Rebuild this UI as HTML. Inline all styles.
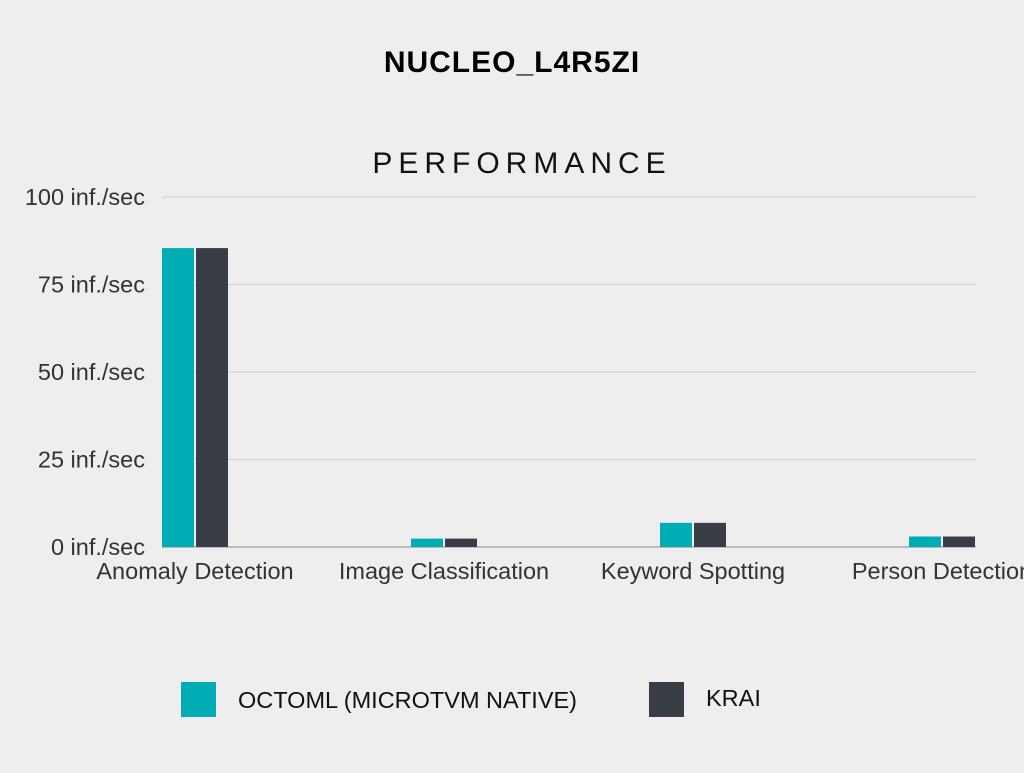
<!DOCTYPE html>
<html><head><meta charset="utf-8"><style>
body{margin:0;background:#eeeeee;width:1024px;height:768px;overflow:hidden;font-family:"Liberation Sans",sans-serif;}
</style></head><body>
<svg width="1024" height="768">
<rect width="1024" height="768" fill="#eeeeee"/>
<text x="512" y="72" text-anchor="middle" font-size="30" font-weight="bold" fill="#000" style="letter-spacing:1px">NUCLEO_L4R5ZI</text>
<text x="522" y="173" text-anchor="middle" font-size="30" fill="#111" style="letter-spacing:6px">PERFORMANCE</text>
<g id="grid"></g><g id="bars"></g><g id="labels"></g>
<g>
<rect x="181" y="682" width="35" height="35" fill="#00adb5"/>
<text x="238" y="708" font-size="23.5" fill="#111">OCTOML (MICROTVM NATIVE)</text>
<rect x="649" y="682" width="35" height="35" fill="#393e46"/>
<text x="706" y="706" font-size="23.5" fill="#111">KRAI</text>
</g>
</svg>
<script>
const categories=["Anomaly Detection","Image Classification","Keyword Spotting","Person Detection"];
const octoml=[85.4,2.4,6.9,3.0];
const krai=[85.4,2.4,6.9,3.0];
const ticks=[0,25,50,75,100];
const ns="http://www.w3.org/2000/svg";
const y0=547,yTop=197,yMax=100;
const y=v=>y0-(v/yMax)*(y0-yTop);
const xC=i=>195+i*249;
function mk(t,a,p){const e=document.createElementNS(ns,t);for(const k in a)e.setAttribute(k,a[k]);p.appendChild(e);return e;}
const grid=document.getElementById('grid'),bars=document.getElementById('bars'),labels=document.getElementById('labels');
ticks.forEach(t=>{
 const l=mk('line',{x1:162,x2:976,y1:y(t),y2:y(t),stroke:t===0?'#888':'#cfcfcf','stroke-width':1},grid);
 
 
 const tx=mk('text',{x:145,y:y(t)+8,'text-anchor':'end','font-size':23.5,fill:'#333'},grid);
 tx.textContent=t+' inf./sec';
 
 
});
categories.forEach((c,i)=>{
 const a=mk('rect',{x:xC(i)-33,y:y(octoml[i]),width:32,height:y0-y(octoml[i]),fill:'#00adb5'},bars);
 
 
 const b=mk('rect',{x:xC(i)+1,y:y(krai[i]),width:32,height:y0-y(krai[i]),fill:'#393e46'},bars);
 
 
 const t=mk('text',{x:xC(i),y:579,'text-anchor':'middle','font-size':23.5,fill:'#333'},labels);
 t.textContent=c;
 
 
});
</script>
</body></html>
